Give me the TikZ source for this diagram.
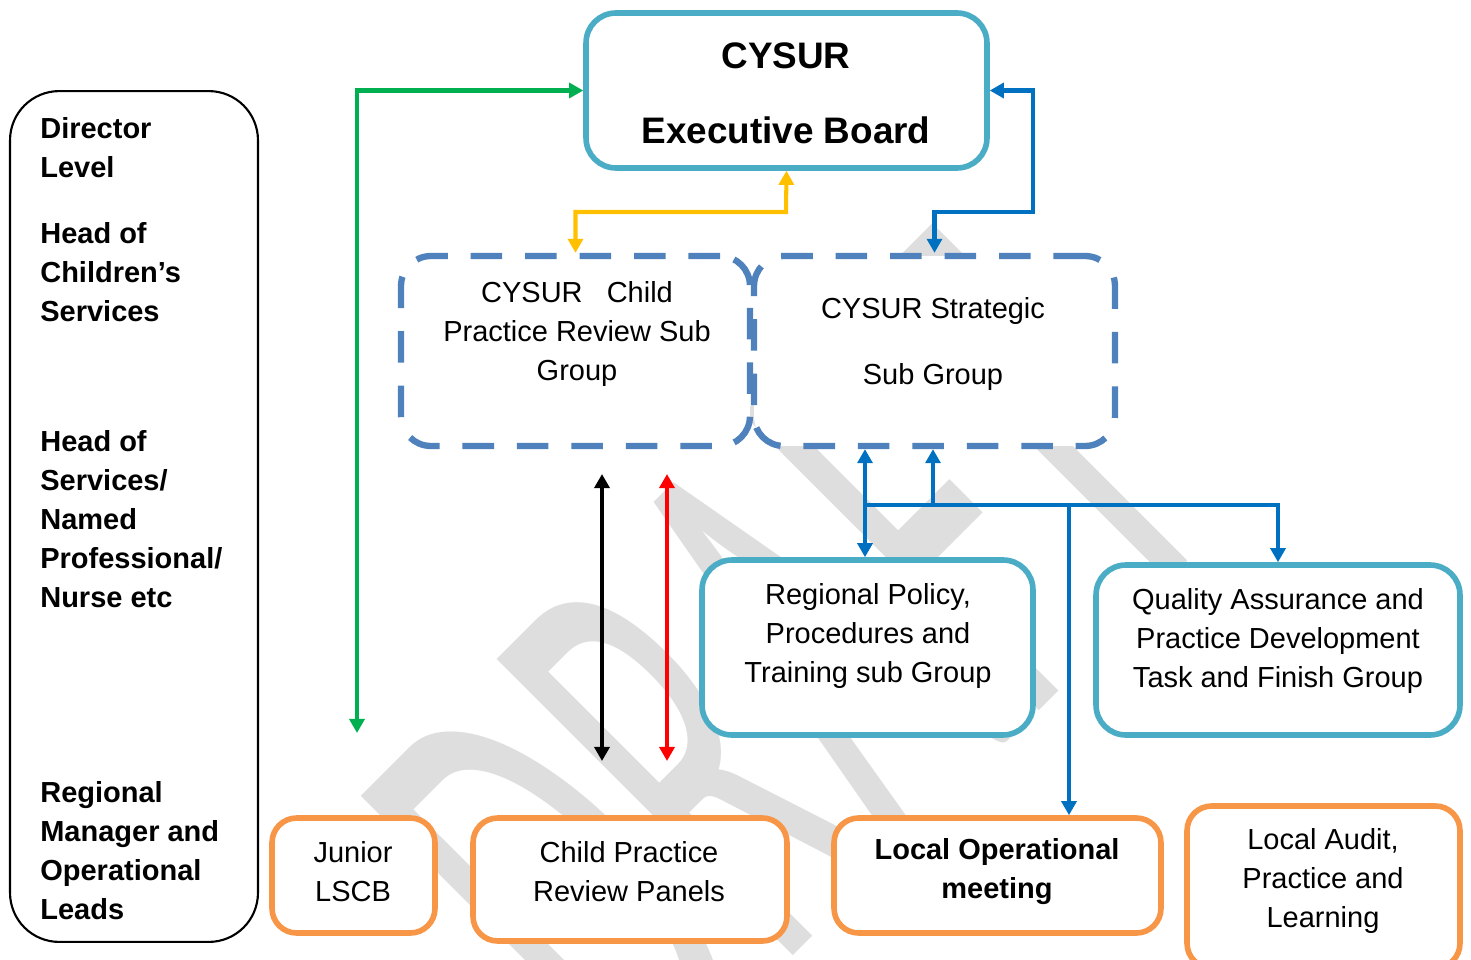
\documentclass[tikz,border=0pt]{standalone}
\usepackage{fontspec}
\setmainfont{Liberation Sans}
\newfontfamily\markfont{Carlito}
\usetikzlibrary{arrows.meta}

\definecolor{boardteal}{HTML}{4BACC6}
\definecolor{subblue}{HTML}{4F81BD}
\definecolor{panelorange}{HTML}{F79646}
\definecolor{linkblue}{HTML}{0070C0}
\definecolor{linkgreen}{HTML}{00B050}
\definecolor{linkyellow}{HTML}{FFC000}
\definecolor{linkred}{HTML}{FF0000}
\definecolor{markgray}{HTML}{DEDEDE}

\tikzset{
  box/.style={rectangle, fill=white, inner sep=0pt, line width=3.2pt, rounded corners=17pt},
  tealbox/.style={box, draw=boardteal},
  orangebox/.style={box, draw=panelorange, rounded corners=14pt},
  dashbox/.style={box, draw=subblue, line width=3.6pt, dash pattern=on 18pt off 13pt},
  levelbox/.style={box, draw=black, line width=1.2pt, rounded corners=28pt},
  txt/.style={align=center, font=\fontsize{16.5}{22.2}\selectfont},
  leveltxt/.style={align=left, anchor=west, inner sep=0pt, font=\bfseries\fontsize{16.5}{22.2}\selectfont},
  link/.style={line width=2.3pt, {Triangle[length=8pt,width=8.5pt]}-{Triangle[length=8pt,width=8.5pt]}},
  linkto/.style={line width=2.3pt, -{Triangle[length=8pt,width=8.5pt]}},
  wmark/.style={text=markgray, rotate=45, yscale=2.1, font=\markfont\fontsize{177}{177}\selectfont}
}

\begin{document}
\begin{tikzpicture}[x=0.02cm, y=-0.02cm]
\useasboundingbox (0,0) rectangle (1471,960);

% watermark
\node[wmark] (draftmark) at (789,664) {DRAFT};

% levels column
\node[levelbox, minimum width=4.96cm, minimum height=17.02cm] (levels) at (134,516.5) {};
\node[leveltxt] (lvlone) at (40,148) {Director\\Level};
\node[leveltxt] (lvltwo) at (40,272) {Head of\\Children’s\\Services};
\node[leveltxt] (lvlthree) at (40,519) {Head of\\Services/\\Named\\Professional/\\Nurse etc};
\node[leveltxt] (lvlfour) at (40,851) {Regional\\Manager and\\Operational\\Leads};

% board and sub groups
\node[tealbox, minimum width=8.02cm, minimum height=3.1cm] (exec) at (786.5,90.5) {};
\node[txt, font=\bfseries\fontsize{21}{42.7}\selectfont] (exectext) at (786,93) {CYSUR\\Executive Board};

\node[dashbox, minimum width=6.98cm, minimum height=3.8cm] (cpr) at (575.5,351) {};
\node[txt] (cprtext) at (577,334) {CYSUR\ \ \ Child\\Practice Review Sub\\Group};

\node[dashbox, minimum width=7.22cm, minimum height=3.8cm] (strat) at (934.5,351) {};
\node[txt, font=\fontsize{16.5}{37.6}\selectfont] (strattext) at (933,344) {CYSUR Strategic\\Sub Group};

\node[tealbox, minimum width=6.62cm, minimum height=3.5cm] (policy) at (867.5,647.5) {};
\node[txt] (policytext) at (868,636) {Regional Policy,\\Procedures and\\Training sub Group};

\node[tealbox, minimum width=7.28cm, minimum height=3.4cm] (quality) at (1278,650) {};
\node[txt] (qualitytext) at (1278,641) {Quality Assurance and\\Practice Development\\Task and Finish Group};

% local groups
\node[orangebox, minimum width=3.26cm, minimum height=2.3cm] (junior) at (353.5,875.5) {};
\node[txt] (juniortext) at (353,872) {Junior\\LSCB};

\node[orangebox, minimum width=6.28cm, minimum height=2.46cm] (panels) at (630,879.5) {};
\node[txt] (panelstext) at (629,872) {Child Practice\\Review Panels};

\node[orangebox, minimum width=6.54cm, minimum height=2.3cm] (localop) at (997.5,875.5) {};
\node[txt, font=\bfseries\fontsize{16.5}{22.2}\selectfont] (localoptext) at (997,872) {Local Operational\\meeting};

\node[orangebox, minimum width=5.46cm, minimum height=3.24cm] (audit) at (1323.5,887) {};
\node[txt] (audittext) at (1323,881) {Local Audit,\\Practice and\\Learning};

% free ends
\coordinate (greenfoot) at (357,733);
\coordinate (blacktop) at (602,474);
\coordinate (blackfoot) at (602,761);
\coordinate (redtop) at (667,474);
\coordinate (redfoot) at (667,761);
\coordinate (bus) at (865,505);
\coordinate (busmid) at (933,505);
\coordinate (busdrop) at (1069,505);

% connectors
\draw[link, linkgreen] (greenfoot) |- (exec.west);
\draw[link, linkyellow] (cpr.north) |- (786,212) -- (exec.south);
\draw[link, linkblue] (strat.north) |- (1033,212) |- (exec.east);
\draw[link, black] (blacktop) -- (blackfoot);
\draw[link, linkred] (redtop) -- (redfoot);

\draw[link, linkblue] (strat.south -| bus) -- (policy.north -| bus);
\draw[linkto, linkblue] (busmid) -- (strat.south -| busmid);
\draw[linkto, linkblue] (bus) -| (quality.north);
\draw[linkto, linkblue] (busdrop) -- (localop.north -| busdrop);

\end{tikzpicture}
\end{document}
